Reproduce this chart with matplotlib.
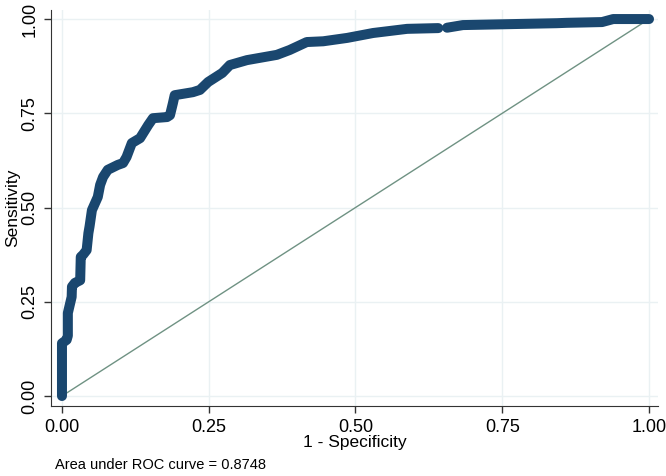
import numpy as np
import matplotlib
matplotlib.use("Agg")
import matplotlib.pyplot as plt

plt.rcParams['font.family'] = ['Liberation Sans', 'DejaVu Sans']

# ROC curve points (1 - specificity, sensitivity)
fpr = [0.0, 0.0, 0.0, 0.008, 0.010, 0.010, 0.0165, 0.017, 0.022, 0.031, 0.032, 0.036,
       0.042, 0.045, 0.047, 0.051, 0.061, 0.065, 0.070, 0.078, 0.095, 0.104, 0.110,
       0.119, 0.133, 0.147, 0.155, 0.179, 0.184, 0.189, 0.192, 0.223, 0.235, 0.249,
       0.273, 0.286, 0.315, 0.366, 0.388, 0.417, 0.445, 0.486, 0.530, 0.588, 0.641,
       None,
       0.656, 0.683, 0.843, 0.860, 0.920, 0.939, 1.0]
tpr = [0.0, 0.008, 0.140, 0.149, 0.160, 0.220, 0.263, 0.290, 0.300, 0.307, 0.369, 0.375,
       0.387, 0.432, 0.450, 0.493, 0.528, 0.560, 0.581, 0.600, 0.613, 0.618, 0.634,
       0.671, 0.684, 0.719, 0.737, 0.740, 0.745, 0.777, 0.798, 0.806, 0.812, 0.833,
       0.857, 0.878, 0.891, 0.905, 0.918, 0.939, 0.941, 0.950, 0.963, 0.974, 0.976,
       None,
       0.977, 0.984, 0.989, 0.990, 0.992, 1.0, 1.0]
ref_x = [0.0, 1.0]
ref_y = [0.0, 1.0]
ticks = [0.0, 0.25, 0.5, 0.75, 1.0]
tick_labels = ["0.00", "0.25", "0.50", "0.75", "1.00"]
auc_text = "Area under ROC curve = 0.8748"

fx = np.array([np.nan if v is None else v for v in fpr], dtype=float)
fy = np.array([np.nan if v is None else v for v in tpr], dtype=float)

fig = plt.figure(figsize=(6.66, 4.76), dpi=100)
ax = fig.add_axes([51/666, 1-406/476, (658-51)/666, (406-10)/476])

for v in ticks:
    ax.axhline(v, color='#eaf1f3', lw=1.0, zorder=0)
    ax.axvline(v, color='#eaf1f3', lw=1.0, zorder=0)

ax.plot(ref_x, ref_y, color='#6f9283', lw=1.0, zorder=2)
ax.plot(fx, fy, color='#1a476f', lw=7.2, solid_capstyle='round',
        solid_joinstyle='round', zorder=3)

ax.set_xlim(-0.0187, 1.0153)
ax.set_ylim(-0.0265, 1.024)
ax.set_xticks(ticks)
ax.set_xticklabels(tick_labels)
ax.set_yticks(ticks)
ax.set_yticklabels(tick_labels, rotation=90, va='center')
ax.tick_params(axis='both', direction='out', length=5, width=1, color='#333333',
               labelsize=13, pad=4)
ax.spines['top'].set_visible(False)
ax.spines['right'].set_visible(False)
ax.spines['left'].set_color('#333333')
ax.spines['bottom'].set_color('#333333')
ax.set_xlabel("1 - Specificity", fontsize=12.5, labelpad=0)
ax.set_ylabel("Sensitivity", fontsize=12.5, labelpad=1)

fig.text(55/666, 1-465/476, auc_text, fontsize=10.5, va='center', ha='left')

fig.savefig("out.png", dpi=100)
